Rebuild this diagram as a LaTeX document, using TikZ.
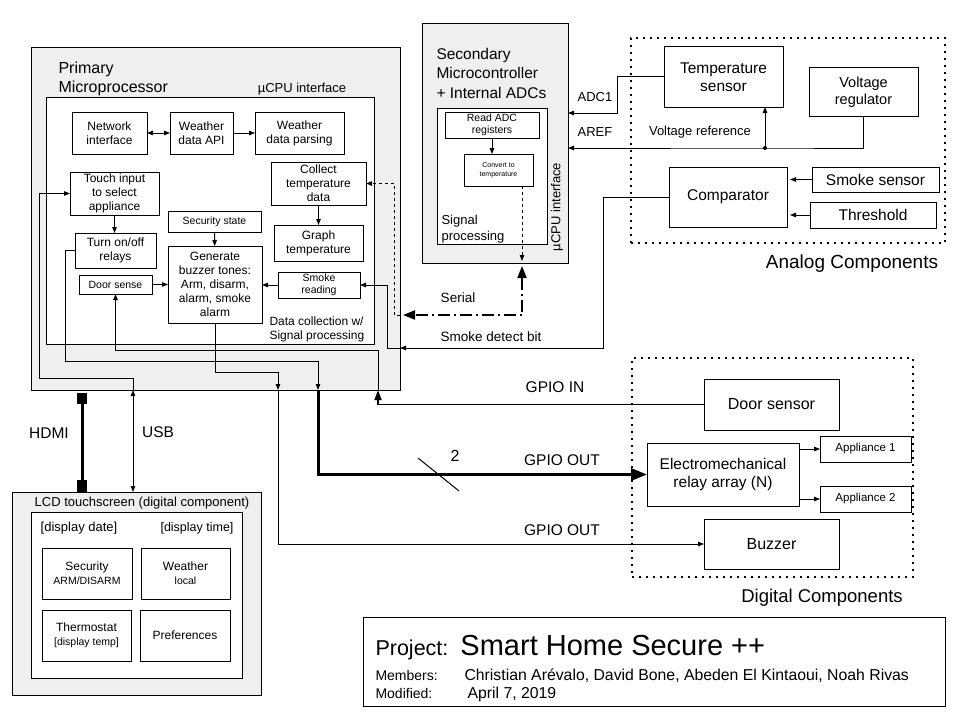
\documentclass[tikz,border=0pt]{standalone}
\usepackage{fontspec}
\setmainfont{Liberation Sans}
\usetikzlibrary{arrows.meta}
\usetikzlibrary{positioning}

\definecolor{panel}{HTML}{EFEFEF}
\newcommand{\fsz}[2]{\fontsize{#1}{#2}\selectfont}

\tikzset{
  blk/.style={draw, line width=1pt, fill=white, align=center, inner sep=0pt, outer sep=0pt},
  grp/.style={draw, line width=1pt, fill=panel, inner sep=0pt, outer sep=0pt},
  zone/.style={draw, line width=1.8pt, dash pattern=on 1.8pt off 5.2pt, inner sep=0pt, outer sep=0pt},
  t7/.style={font=\fsz{7pt}{9pt}},
  t10/.style={font=\fsz{10.5pt}{12.5pt}},
  t12/.style={font=\fsz{12pt}{13.9pt}},
  t13/.style={font=\fsz{13pt}{16pt}},
  t15/.style={font=\fsz{15.5pt}{17.5pt}},
  wire/.style={line width=1pt},
  arr/.style={wire, -{Triangle[length=6pt,width=4.5pt]}},
  darr/.style={wire, {Triangle[length=6pt,width=4.5pt]}-{Triangle[length=6pt,width=4.5pt]}},
  gpin/.style={line width=1.8pt, -{Triangle[length=10pt,width=7pt]}},
  bus/.style={line width=3pt, -{Triangle[length=16pt,width=12pt]}},
  serial/.style={line width=2pt, dash pattern=on 12pt off 4pt on 2pt off 4pt,
    {Triangle[length=12pt,width=9pt]}-{Triangle[length=12pt,width=9pt]}},
  hdmi/.style={line width=3pt, {Square[length=11pt,width=10pt]}-{Square[length=12pt,width=10pt]}}
}

\begin{document}
\begin{tikzpicture}[x=1pt,y=-1pt]
%% Block
%% 7 params : name, x1, y1, x2, y2, style, text
%% Note : corners are given in pixels of the sheet, y grows downwards.
\newcommand{\boxat}[7]{
\node[#6, minimum width={(#4-#2)*1pt}, minimum height={(#5-#3)*1pt}]
  (#1) at ({(#2+#4)/2},{(#3+#5)/2}) {#7};
}

\useasboundingbox (0,0) rectangle (967,725);

%% panels and zones
\boxat{prim}{31}{48}{400}{390}{grp}{}
\boxat{prim_in}{46}{98}{374}{344}{blk}{}
\boxat{sec}{422}{24}{568}{263}{grp}{}
\boxat{sec_in}{437}{108}{547}{244}{blk}{}
\boxat{lcd}{12}{492}{261}{695}{grp}{}
\boxat{lcd_in}{31}{512}{242}{678}{blk}{}
\boxat{analog}{631}{38}{945}{243}{zone}{}
\boxat{digital}{632}{358}{913}{577}{zone}{}
\boxat{title}{363}{617}{945}{706}{blk}{}

%% primary microprocessor
\node[font=\fsz{16pt}{18.3pt}, align=left, anchor=west] (prim_lbl) at (55,79) {Primary\\Microprocessor};
\node[t13] (prim_if) at (302,89) {µCPU interface};
\boxat{net}{72}{112}{147}{154}{blk, t12}{Network\\interface}
\boxat{api}{170}{112}{233}{154}{blk, t12}{Weather\\data API}
\boxat{parse}{255}{112}{344}{154}{blk, t12}{Weather\\data parsing}
\boxat{collect}{271}{162}{366}{205}{blk, t12}{Collect\\temperature\\data}
\boxat{graph}{274}{225}{363}{261}{blk, t12}{Graph\\temperature}
\boxat{touch}{70}{172}{159}{215}{blk, t12}{Touch input\\to select\\appliance}
\boxat{relays}{75}{233}{156}{268}{blk, t12}{Turn on/off\\relays}
\boxat{secst}{168}{211}{261}{232}{blk, t10}{Security state}
\boxat{buzz}{168}{246}{262}{323}{blk, t12}{Generate\\buzzer tones:\\Arm, disarm,\\alarm, smoke\\alarm}
\boxat{door}{79}{275}{152}{294}{blk, t10}{Door sense}
\boxat{smoke}{278}{272}{360}{298}{blk, t10}{Smoke\\reading}
\node[font=\fsz{12pt}{14pt}, align=left, anchor=west] (prim_dc) at (266,329) {Data collection w/\\Signal processing};

%% secondary microcontroller
\node[font=\fsz{15.5pt}{19.5pt}, align=left, anchor=west] (sec_lbl) at (433,73) {Secondary\\Microcontroller\\+ Internal ADCs};
\boxat{readadc}{445}{112}{539}{138}{blk, t10}{Read ADC\\registers}
\boxat{conv}{464}{154}{533}{186}{blk, t7}{Convert to\\temperature}
\node[t13, align=left, anchor=west] (sec_sp) at (438,229) {Signal\\processing};
\node[t13, rotate=90] (sec_if) at (557,207) {µCPU interface};

%% analog components
\boxat{tsens}{664}{47}{783}{107}{blk, t15}{Temperature\\sensor}
\boxat{vreg}{809}{68}{918}{116}{blk, font=\fsz{14.5pt}{17pt}}{Voltage\\regulator}
\boxat{comp}{669}{167}{787}{227}{blk, t15}{Comparator}
\boxat{ssens}{812}{167}{939}{192}{blk, t15}{Smoke sensor}
\boxat{thr}{810}{202}{936}{228}{blk, t15}{Threshold}
\node[font=\fsz{19pt}{22pt}] (analog_lbl) at (852,264) {Analog Components};

%% digital components
\boxat{dsens}{704}{379}{839}{430}{blk, font=\fsz{16pt}{18pt}}{Door sensor}
\boxat{relay}{647}{443}{799}{506}{blk, t15}{Electromechanical\\relay array (N)}
\boxat{app1}{820}{436}{911}{462}{blk, font=\fsz{11.5pt}{13pt}}{Appliance 1}
\boxat{app2}{820}{486}{911}{512}{blk, font=\fsz{11.5pt}{13pt}}{Appliance 2}
\boxat{bzr}{704}{519}{839}{569}{blk, font=\fsz{16pt}{18pt}}{Buzzer}
\node[font=\fsz{18.5pt}{22pt}] (digital_lbl) at (822,598) {Digital Components};

%% LCD touchscreen
\node[t13] (lcd_lbl) at (142,503) {LCD touchscreen (digital component)};
\node[t13] (date_lbl) at (79,528) {[display date]};
\node[font=\fsz{12.5pt}{15pt}] (time_lbl) at (197,528) {[display time]};
\boxat{lcd_sec}{42}{548}{132}{599}{blk, t12}{Security\\{\fsz{10.5pt}{12.5pt}ARM/DISARM}}
\boxat{lcd_wx}{141}{548}{230}{599}{blk, t12}{Weather\\{\fsz{10.5pt}{12.5pt}local}}
\boxat{lcd_th}{42}{610}{131}{661}{blk, t12}{Thermostat\\{\fsz{10.5pt}{12.5pt}[display temp]}}
\boxat{lcd_pref}{140}{610}{230}{661}{blk, t12}{Preferences}

%% wire labels
\node[t13] (adc_lbl) at (595,97) {ADC1};
\node[t13] (aref_lbl) at (595,132) {AREF};
\node[t13] (vref_lbl) at (700,132) {Voltage reference};
\node[font=\fsz{13.5pt}{16pt}] (ser_lbl) at (458,298) {Serial};
\node[font=\fsz{13.5pt}{16pt}] (sdb_lbl) at (491,337) {Smoke detect bit};
\node[font=\fsz{15.5pt}{18pt}] (gin_lbl) at (555,387) {GPIO IN};
\node[font=\fsz{15.5pt}{18pt}] (gout_lbl) at (562,460) {GPIO OUT};
\node[font=\fsz{16pt}{18pt}] (two_lbl) at (455,456) {2};
\node[font=\fsz{15.5pt}{18pt}] (gout2_lbl) at (562,530) {GPIO OUT};
\node[font=\fsz{15.5pt}{18pt}] (hdmi_lbl) at (49,433) {HDMI};
\node[font=\fsz{15.5pt}{18pt}] (usb_lbl) at (158,432) {USB};

%% title block
\node[font=\fsz{21.5pt}{24pt}, anchor=base west] (proj_lbl) at (372,655) {Project:};
\node[font=\fsz{29pt}{32pt}, right=5pt of proj_lbl.base east, anchor=base west] (proj_txt) {Smart Home Secure ++};
\node[font=\fsz{14pt}{16pt}, anchor=base west] (mem_lbl) at (372,680) {Members:};
\node[font=\fsz{15.8pt}{17pt}, anchor=base west] (mem_txt) at (461,680) {Christian Arévalo, David Bone, Abeden El Kintaoui, Noah Rivas};
\node[font=\fsz{14pt}{16pt}, anchor=base west] (mod_lbl) at (372,698) {Modified:};
\node[font=\fsz{15.8pt}{17pt}, anchor=base west] (mod_txt) at (464,698) {April 7, 2019};

%% bend points of the wires
\coordinate (adc_bend) at (617,113);
\coordinate (vref) at (765,148);
\coordinate (sdb) at (603,348);
\coordinate (sdb_in) at (387,348);
\coordinate (ser) at (522,315);
\coordinate (ser_in) at (394,315);
\coordinate (gin) at (378,404);
\coordinate (din) at (378,350);
\coordinate (rl) at (65,361);
\coordinate (rout) at (318,475);
\coordinate (bzo) at (278,372);
\coordinate (usb) at (133,378);
\coordinate (tl) at (39,378);
\coordinate (hd) at (82,440);

%% inside the primary microprocessor
\draw[darr] (net) -- (api);
\draw[arr] (api) -- (parse);
\draw[arr] (collect) -- (graph);
\draw[arr] (touch.south) -- (touch.south |- relays.north);
\draw[arr] (secst) -- (buzz);
\draw[arr] (door) -- (door -| buzz.west);
\draw[arr] (smoke) -- (smoke -| buzz.east);

%% inside the secondary microcontroller
\draw[arr] (readadc.south) -- (readadc.south |- conv.north);
\draw[arr, dashed, shorten >=2pt] (conv.south -| ser) -- (sec.south -| ser);

%% analog side
\draw[arr] (tsens.west) -| (adc_bend) -- (sec.east |- adc_bend);
\draw[arr] (vreg.south) |- (vref) -- (sec.east |- vref);
\draw[arr] (vref) -- (vref |- tsens.south);
\fill (vref) circle (2pt);
\draw[arr, shorten >=3pt] (ssens.west) -- (comp.east |- ssens.west);
\draw[arr, shorten >=3pt] (thr.west) -- (comp.east |- thr.west);
\draw[arr] (comp.west) -| (sdb) -- (prim.east |- sdb);
\draw[arr] (prim.east |- sdb) -- (sdb_in) |- (smoke.east);

%% serial link
\draw[serial, shorten <=3pt, shorten >=3pt] (sec.south -| ser) -- (ser) -- (prim.east |- ser);
\draw[arr, dashed] (prim.east |- ser) -- (ser_in) |- (collect.east);

%% digital side
\draw[gpin] (dsens.west) -| (prim.south -| gin);
\draw[arr] (prim.south -| gin) -- (din) -| (door.south);
\draw[arr] (relays.west) -| (rl) -| (prim.south -| rout);
\draw[bus] (prim.south -| rout) |- (relay.west);
\draw[wire] (418,458) -- (459,491);
\draw[arr] (buzz.south) |- (bzo) -- (prim.south -| bzo);
\draw[arr] (prim.south -| bzo) |- (bzr.west);
\draw[arr] (relay.east |- app1) -- (app1.west);
\draw[arr] (relay.east |- app2) -- (app2.west);

%% LCD links
\draw[hdmi, shorten <=3pt] (prim.south -| hd) -- (lcd.north -| hd);
\draw[darr] (lcd.north -| usb) -- (prim.south -| usb);
\draw[arr] (prim.south -| usb) -- (usb) -- (tl) |- (touch.west);
\end{tikzpicture}
\end{document}
